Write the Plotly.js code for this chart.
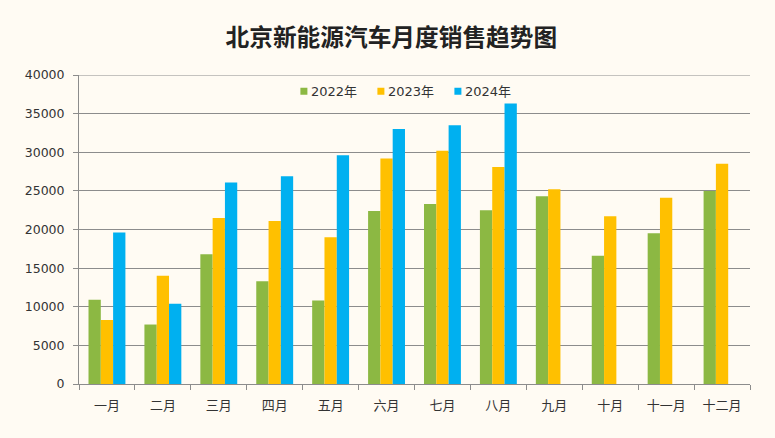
<!DOCTYPE html>
<html><head><meta charset="utf-8">
<script src="https://cdn.plot.ly/plotly-3.0.1.min.js"></script>
<style>html,body{margin:0;padding:0;background:#fffbf3;}#chart{width:775px;height:438px;}</style>
</head><body><div id="chart"></div>
<script>
const months = ['一月','二月','三月','四月','五月','六月','七月','八月','九月','十月','十一月','十二月'];
const seriesNames = ['2022年','2023年','2024年'];
const sales2022 = [10900, 7700, 16800, 13300, 10800, 22400, 23300, 22500, 24300, 16600, 19500, 25000];
const sales2023 = [8300, 14000, 21500, 21100, 19000, 29200, 30200, 28100, 25200, 21700, 24100, 28500];
const sales2024 = [19600, 10400, 26100, 26900, 29600, 33000, 33500, 36300, null, null, null, null];
const yTicks = [0, 5000, 10000, 15000, 20000, 25000, 30000, 35000, 40000];
const colors = ['#8cb843', '#ffc000', '#00b0f0'];

const allSeries = [sales2022, sales2023, sales2024];
const traces = allSeries.map((vals, i) => ({
  type: 'bar', x: months, y: vals, name: seriesNames[i],
  marker: {color: colors[i]}, showlegend: false, hoverinfo: 'x+y'
}));
// legend entries with small square symbols
seriesNames.forEach((n, i) => traces.push({
  type: 'scatter', mode: 'markers', x: [null], y: [null], name: n,
  marker: {symbol: 'square', size: 7, color: colors[i]}, showlegend: true
}));
// blank spacer entry so the last legend label is not clipped
traces.push({type: 'scatter', mode: 'markers', x: [null], y: [null], name: '\u00a0',
  marker: {symbol: 'square', size: 7, color: 'rgba(0,0,0,0)'}, showlegend: true});

const layout = {
  width: 775, height: 438,
  paper_bgcolor: '#fffbf3', plot_bgcolor: '#fffbf3',
  margin: {l: 79, r: 25, t: 75, b: 54},
  barmode: 'group', bargap: 0.34, bargroupgap: 0,
  font: {family: 'DejaVu Sans, Noto Sans CJK SC, sans-serif', color: '#333', size: 12.5},
  title: {text: '<b>北京新能源汽车月度销售趋势图</b>', x: 0.505, xanchor: 'center', y: 0.913, yanchor: 'middle',
    font: {family: 'Noto Sans CJK SC, sans-serif', size: 23.7, color: '#222'}},
  xaxis: {type: 'category', showline: true, linecolor: '#8c8c8c', linewidth: 1,
    ticks: 'outside', tickson: 'boundaries', ticklen: 5, tickcolor: '#8c8c8c',
    showgrid: false, ticklabelstandoff: 9,
    tickfont: {family: 'Noto Sans CJK SC, sans-serif', size: 13, color: '#333'}},
  yaxis: {range: [0, 40000], tickvals: yTicks, ticktext: yTicks.map(String),
    showline: true, linecolor: '#8c8c8c', linewidth: 1,
    ticks: 'outside', ticklen: 5, tickcolor: '#8c8c8c', ticklabelstandoff: 6,
    showgrid: true, gridcolor: '#8c8c8c', gridwidth: 1, zeroline: false,
    tickfont: {family: 'DejaVu Sans, sans-serif', size: 12.5, color: '#333'}},
  showlegend: true,
  legend: {orientation: 'h', x: 0.286, xanchor: 'left', y: 0.947, yanchor: 'middle',
    bgcolor: 'rgba(0,0,0,0)', itemwidth: 30, traceorder: 'normal',
    entrywidth: 32, entrywidthmode: 'pixels',
    font: {family: 'DejaVu Sans, Noto Sans CJK SC, sans-serif', size: 13, color: '#333'}},
  shapes: [{type: 'line', xref: 'paper', yref: 'y', x0: 0, x1: 1, y0: 40000, y1: 40000,
    line: {color: '#8c8c8c', width: 1}}]
};
Plotly.newPlot('chart', traces, layout, {displayModeBar: false, staticPlot: true}).then(() => {
  // bring legend squares closer to their labels, as in the reference
  document.querySelectorAll('#chart .legend .legendpoints').forEach(g => g.setAttribute('transform', 'translate(13,0)'));
});
</script></body></html>
